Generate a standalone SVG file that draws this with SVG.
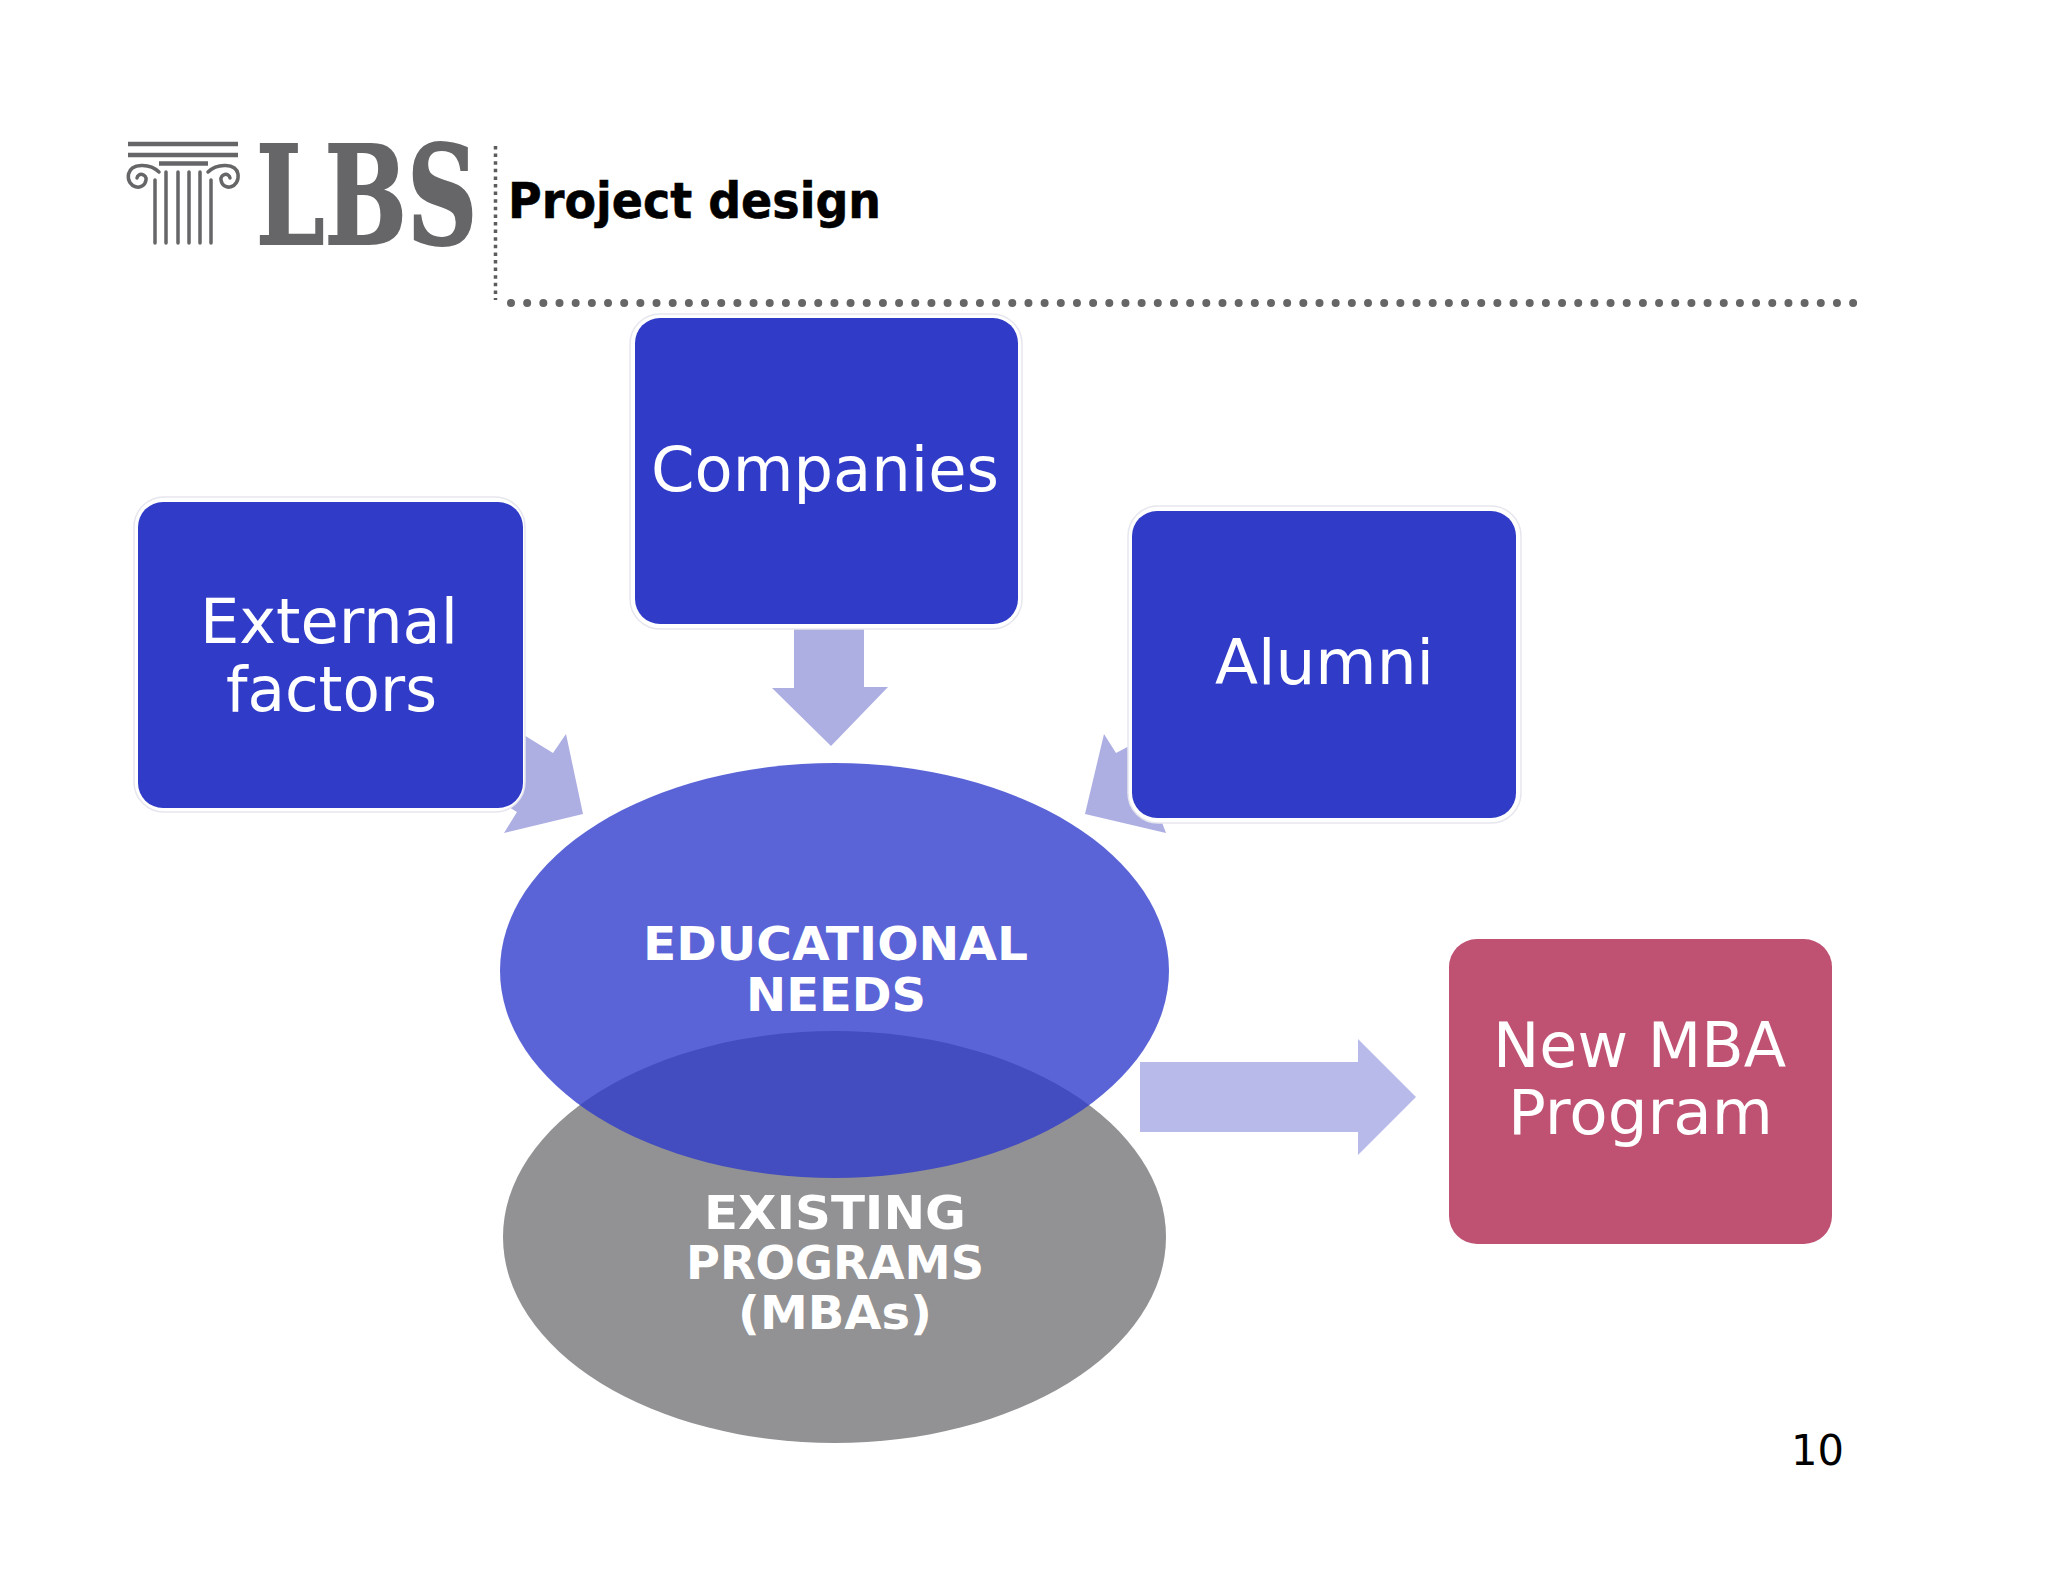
<svg xmlns="http://www.w3.org/2000/svg" width="2048" height="1582" viewBox="0 0 2048 1582">
<style>
text{font-family:"DejaVu Sans","Liberation Sans",sans-serif;text-anchor:start}
.box{fill:#303bc8;stroke:none}
.halo{fill:#fff;stroke:#e6e6ee;stroke-width:1.5}
.lbl{fill:#fff;font-size:62px}
.bold{fill:#fff;font-size:47px;font-weight:700}
.arr{fill:#adaee2}
.pil{stroke:#666668;fill:none;stroke-linecap:round}
</style>
<rect width="2048" height="1582" fill="#fff"/>
<g id="header">
<g id="logo">
<g class="pil">
<path d="M128 144H238M128 155H238" stroke-width="4.5" stroke-linecap="butt"/>
<path d="M159 163.500H208" stroke-width="4.500" stroke-linecap="butt"/>
<path d="M155 180V243M166 172V243M178 172V243M189 172V243M200 172V243M211 180V243" stroke-width="3.500"/>
<path d="M159 172C150 163 131 163 128.500 174C126 188 144 192 146 180C147 174 138 172 137 178" stroke-width="3.500"/>
<path d="M208 172C217 163 236 163 238 174C240 188 223 192 221 180C220 174 229 172 230 178" stroke-width="3.500"/>
</g>
<text transform="translate(256 244) scale(.712 1)" font-size="137" font-weight="700" fill="#666668" stroke="#666668" stroke-width="2" style="font-family:'DejaVu Serif','Liberation Serif',serif">LBS</text>
</g>
<path d="M495.500 146V300" stroke="#5c5c5c" stroke-width="3.500" stroke-dasharray="3.500 4.100" fill="none"/>
<path d="M511 303H1856" stroke="#666" stroke-width="8" stroke-linecap="round" stroke-dasharray="0 16.170" fill="none"/>
<text transform="translate(508 218) scale(.92 1)" font-size="50" font-weight="700" fill="#000" stroke="#000" stroke-width=".6">Project design</text>
</g>
<g id="connectors">
<polygon class="arr" points="794,625 864,625 864,687 888,687 831,746 772,688 794,688"/>
<polygon class="arr" points="583,814 566,734 553,753 485,711 449,770 517,812 504,833"/>
<polygon class="arr" points="1085,814 1104,734 1116,753 1201,708 1240,767 1158,812 1166,833"/>
<polygon points="1140,1062 1358,1062 1358,1039 1416,1097 1358,1155 1358,1132 1140,1132" fill="#b8bbe9"/>
</g>
<g id="external-factors">
<rect class="halo" x="134" y="497" width="391" height="315" rx="30"/>
<rect class="box" x="138" y="502" width="385" height="306" rx="25"/>
<text class="lbl" x="200" y="643" textLength="258" lengthAdjust="spacingAndGlyphs">External</text>
<text class="lbl" x="226" y="711" textLength="211" lengthAdjust="spacingAndGlyphs">factors</text>
</g>
<g id="companies">
<rect class="halo" x="630" y="314" width="392" height="315" rx="30"/>
<rect class="box" x="635" y="318" width="383" height="306" rx="25"/>
<text class="lbl" x="651" y="491" textLength="348" lengthAdjust="spacingAndGlyphs">Companies</text>
</g>
<g id="alumni">
<rect class="halo" x="1128" y="506" width="393" height="317" rx="30"/>
<rect class="box" x="1132" y="511" width="384" height="307" rx="25"/>
<text class="lbl" x="1215" y="684" textLength="219" lengthAdjust="spacingAndGlyphs">Alumni</text>
</g>
<g id="existing-programs">
<ellipse cx="834.500" cy="1237" rx="331.500" ry="206" fill="#929193"/>
</g>
<g id="educational-needs">
<ellipse cx="834.500" cy="970.500" rx="334.500" ry="207.500" fill="#2e3acb" fill-opacity=".79"/>
<text class="bold" x="643" y="960" textLength="385" lengthAdjust="spacingAndGlyphs">EDUCATIONAL</text>
<text class="bold" x="746" y="1011" textLength="180" lengthAdjust="spacingAndGlyphs">NEEDS</text>
</g>
<g id="existing-labels">
<text class="bold" x="704" y="1229" textLength="262" lengthAdjust="spacingAndGlyphs">EXISTING</text>
<text class="bold" x="686" y="1279" textLength="298" lengthAdjust="spacingAndGlyphs">PROGRAMS</text>
<text class="bold" x="738" y="1329" textLength="194" lengthAdjust="spacingAndGlyphs">(MBAs)</text>
</g>
<g id="new-mba">
<rect x="1449" y="939" width="383" height="305" rx="28" fill="#bf5272"/>
<text class="lbl" x="1493" y="1067" textLength="293" lengthAdjust="spacingAndGlyphs">New MBA</text>
<text class="lbl" x="1508" y="1134" textLength="265" lengthAdjust="spacingAndGlyphs">Program</text>
</g>
<text x="1791" y="1465" font-size="42" fill="#000" textLength="53" lengthAdjust="spacingAndGlyphs">10</text>
</svg>
